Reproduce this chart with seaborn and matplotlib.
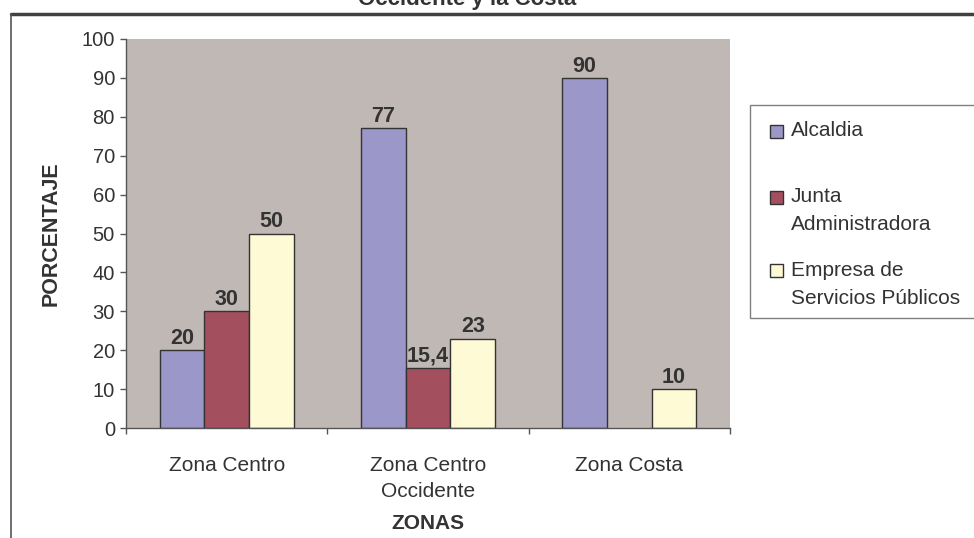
import matplotlib
matplotlib.use("Agg")
import matplotlib.pyplot as plt
import seaborn as sns
import pandas as pd
import numpy as np
from matplotlib.patches import Rectangle
from matplotlib.lines import Line2D

# Data
zonas = ["Zona Centro", "Zona Centro\nOccidente", "Zona Costa"]
entidades = ["Alcaldia", "Junta\nAdministradora", "Empresa de\nServicios Públicos"]
alcaldia = [20, 77, 90]
junta = [30, 15.4, np.nan]
empresa = [50, 23, 10]
colores = ["#9B97C9", "#A34F5E", "#FFFAD6"]
yticks = list(range(0, 101, 10))
titulo = "Occidente y la Costa"

sns.set_theme(style="white")
plt.rcParams["font.family"] = ["Liberation Sans", "DejaVu Sans"]

df = pd.DataFrame({
    "zona": zonas * 3,
    "entidad": [e for e in entidades for _ in zonas],
    "valor": alcaldia + junta + empresa,
})

W, H = 974, 538
fig = plt.figure(figsize=(W / 100, H / 100), dpi=100)


def fx(px):
    return px / W


def fy(py):
    return 1 - py / H


ax = fig.add_axes([fx(126), fy(428), (730 - 126) / W, (428 - 39) / H])
sns.barplot(
    data=df, x="zona", y="valor", hue="entidad",
    order=zonas, hue_order=entidades, palette=colores,
    width=0.667, saturation=1, edgecolor="#333333", linewidth=1,
    errorbar=None, legend=False, ax=ax,
)

for cont in ax.containers:
    labels = [f"{b.get_height():g}".replace(".", ",") for b in cont]
    ax.bar_label(cont, labels=labels, padding=1, fontsize=15.5,
                 fontweight="bold", color="#333333")

ax.set_facecolor("#C0B8B5")
ax.set_xlim(-0.5, 2.5)
ax.set_ylim(0, 100)
ax.set_yticks(yticks)
ax.set_xticks(range(len(zonas)))
ax.set_xticklabels(zonas)
ax.set_xticks([-0.5, 0.5, 1.5, 2.5], minor=True)
for t in ax.get_xticklabels():
    t.set_linespacing(1.45)

for s in ["top", "right"]:
    ax.spines[s].set_visible(False)
for s in ["left", "bottom"]:
    ax.spines[s].set_color("#555555")
    ax.spines[s].set_linewidth(1)

ax.tick_params(axis="x", which="major", length=0, pad=20, labelsize=15,
               labelcolor="#333333")
ax.tick_params(axis="x", which="minor", length=4, width=1, color="#555555",
               direction="out", bottom=True)
ax.tick_params(axis="y", length=4, width=1, color="#555555", direction="out",
               left=True, labelsize=14.5, labelcolor="#333333", pad=4)

ax.set_xlabel("ZONAS", fontsize=15, fontweight="bold", color="#333333",
              labelpad=10)
ax.set_ylabel("PORCENTAJE", fontsize=15.5, fontweight="bold", color="#333333",
              labelpad=14)

# Outer chart frame
fig.add_artist(Line2D([fx(11), 1], [fy(14), fy(14)], color="#404040",
                      lw=2.5, transform=fig.transFigure))
fig.add_artist(Line2D([fx(11), fx(11)], [0, fy(14)], color="#555555",
                      lw=1.2, transform=fig.transFigure))

# Title
fig.text(fx(467), fy(5), titulo, ha="center", va="baseline", fontsize=16,
         fontweight="bold", color="#333333")

# Legend box
fig.add_artist(Rectangle((fx(750), fy(318)), (990 - 750) / W, (318 - 105) / H,
                         transform=fig.transFigure, facecolor="white",
                         edgecolor="#808080", lw=1))
legend_rows = [131, 197, 270]
for nombre, color, yrow in zip(entidades, colores, legend_rows):
    fig.add_artist(Rectangle((fx(770), fy(yrow + 6.5)), 13 / W, 13 / H,
                             transform=fig.transFigure, facecolor=color,
                             edgecolor="#333333", lw=1))
    for i, ln in enumerate(nombre.split("\n")):
        fig.text(fx(791), fy(yrow + i * 28), ln, ha="left", va="center",
                 fontsize=15, color="#333333")

fig.savefig("out.png", dpi=100)
